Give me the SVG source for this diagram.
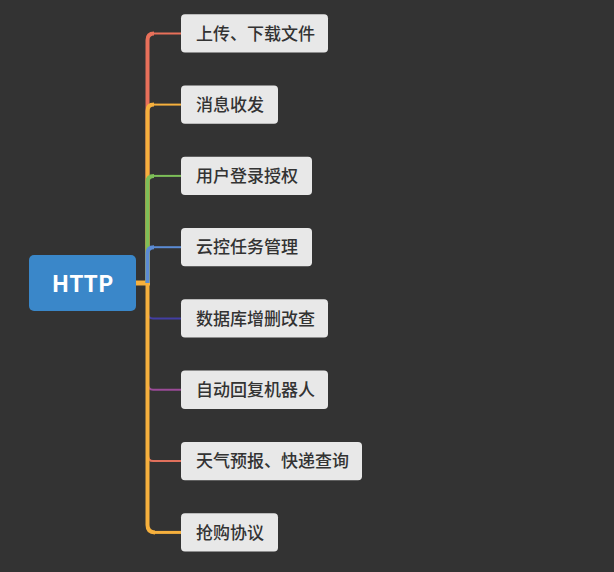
<svg xmlns="http://www.w3.org/2000/svg" width="614" height="572" viewBox="0 0 614 572">
<style>
.bg{fill:#333333}
.node rect{fill:#e8e8e8;stroke:none}
.node text{font-family:"Noto Sans CJK SC","Noto Sans",sans-serif;font-size:17px;font-weight:500;fill:#333333}
.root rect{fill:#3a87c9}
.root text{font-family:"Noto Sans CJK SC","Noto Sans",sans-serif;font-size:23px;font-weight:bold;fill:#ffffff}
.trunk{fill:none;stroke-width:4;stroke-linecap:butt}
.leaf{fill:none;stroke-width:2}
.thin{fill:none;stroke-width:2}
</style>
<rect class="bg" x="0" y="0" width="614" height="572"/>
<g id="connectors">
  <line x1="136" y1="283" x2="150" y2="283" stroke="#f6b03d" stroke-width="5"/>
  <path class="trunk" stroke="#e8705a" d="M147.5,283 V40 Q147.5,33.5 154,33.5"/>
  <line class="leaf" stroke="#e8705a" x1="153" y1="33.5" x2="181" y2="33.5"/>
  <path class="trunk" stroke="#f6b03d" d="M147.5,283 V111 Q147.5,104.6 154,104.6"/>
  <line class="leaf" stroke="#f6b03d" x1="153" y1="104.6" x2="181" y2="104.6"/>
  <path class="trunk" stroke="#7dbf58" d="M147.5,283 V182 Q147.5,175.9 154,175.9"/>
  <line class="leaf" stroke="#7dbf58" x1="153" y1="175.9" x2="181" y2="175.9"/>
  <path class="trunk" stroke="#5b8bd4" d="M147.5,283 V253.5 Q147.5,247.2 154,247.2"/>
  <line class="leaf" stroke="#5b8bd4" x1="153" y1="247.2" x2="181" y2="247.2"/>
  <path class="thin" stroke="#433ea3" d="M148,283 V313 Q148,318.5 153,318.5 H181"/>
  <path class="thin" stroke="#9b4b98" d="M148,283 V384 Q148,389.8 153,389.8 H181"/>
  <path class="thin" stroke="#e0705c" d="M148,283 V455 Q148,461.1 153,461.1 H181"/>
  <path class="trunk" stroke="#f6b03d" d="M147.5,283 V525 Q147.5,532.4 155,532.4"/>
  <line stroke="#f6b03d" stroke-width="3" x1="154" y1="532.4" x2="181" y2="532.4"/>
</g>
<g id="root" class="root">
  <rect x="29" y="255" width="107" height="56" rx="5"/>
  <text x="82.5" y="291.5" text-anchor="middle">HTTP</text>
</g>
<g id="n1" class="node"><rect x="181" y="14.3" width="147" height="38.3" rx="4"/><text x="196" y="39.5">上传、下载文件</text></g>
<g id="n2" class="node"><rect x="181" y="85.5" width="97" height="38.3" rx="4"/><text x="196" y="110.7">消息收发</text></g>
<g id="n3" class="node"><rect x="181" y="156.8" width="131" height="38.3" rx="4"/><text x="196" y="182">用户登录授权</text></g>
<g id="n4" class="node"><rect x="181" y="228" width="131" height="38.3" rx="4"/><text x="196" y="253.3">云控任务管理</text></g>
<g id="n5" class="node"><rect x="181" y="299.3" width="147" height="38.3" rx="4"/><text x="196" y="324.6">数据库增删改查</text></g>
<g id="n6" class="node"><rect x="181" y="370.6" width="147" height="38.3" rx="4"/><text x="196" y="395.9">自动回复机器人</text></g>
<g id="n7" class="node"><rect x="181" y="441.9" width="181" height="38.3" rx="4"/><text x="196" y="467.2">天气预报、快递查询</text></g>
<g id="n8" class="node"><rect x="181" y="513.2" width="97" height="38.3" rx="4"/><text x="196" y="538.5">抢购协议</text></g>
</svg>
